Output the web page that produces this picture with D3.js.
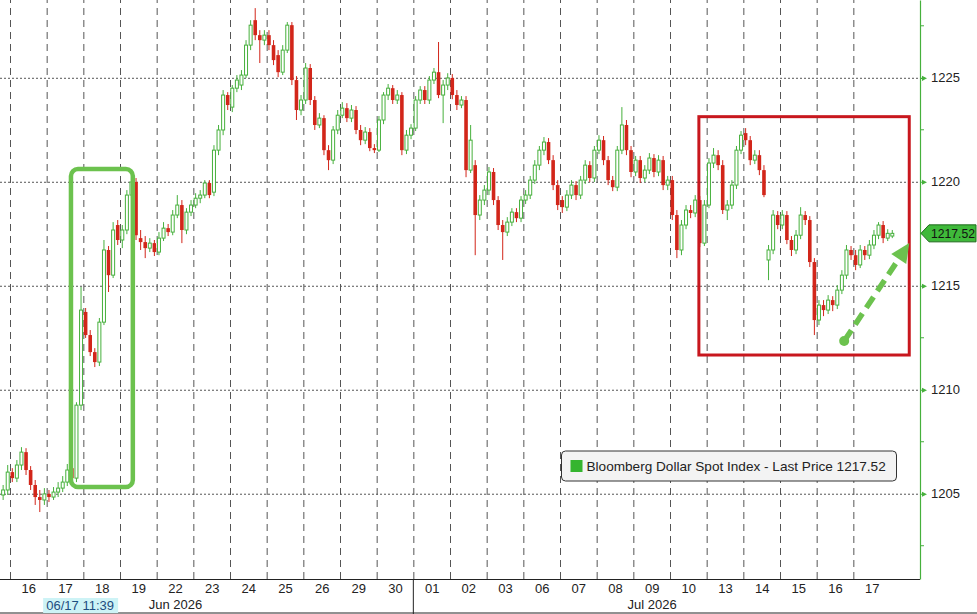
<!DOCTYPE html>
<html>
<head>
<meta charset="utf-8">
<script src="https://cdn.jsdelivr.net/npm/d3@7"></script>
<style>
  body { margin: 0; background: #fff; }
  svg { display: block; font-family: "Liberation Sans", Arial, sans-serif; }
</style>
</head>
<body>
<script>
"use strict";

// trading days shown on the axis (8 bars per day, 2 bars before the first day)
const days = ["16","17","18","19","22","23","24","25","26","29","30","01","02","03","06","07","08","09","10","13","14","15","16","17"];
const months = [{label: "Jun 2026", day: 4}, {label: "Jul 2026", day: 17}];
const monthBreak = 11;
const yTicks = [1205, 1210, 1215, 1220, 1225];
const yMinor = [1202.5, 1207.5, 1212.5, 1217.5, 1222.5, 1227.5];
const lastPrice = 1217.52;
const seriesName = "Bloomberg Dollar Spot Index - Last Price";
const crossLabel = "06/17 11:39";

const opens = [
  1204.94, 1205.18,
  1206.04, 1205.75, 1206.38, 1207.00, 1206.14, 1205.42, 1204.84, 1204.70,
  1204.99, 1204.84, 1205.08, 1205.27, 1205.56, 1206.23, 1205.75, 1209.26,
  1213.74, 1212.63, 1211.81, 1211.33, 1213.25, 1216.72, 1215.51, 1217.92,
  1217.20, 1217.68, 1219.36, 1219.99, 1217.29, 1217.10, 1216.81, 1217.05,
  1216.62, 1217.29, 1217.77, 1217.58, 1218.40, 1218.88, 1217.68, 1218.54,
  1218.88, 1219.21, 1219.36, 1219.94, 1219.50, 1221.52, 1222.49, 1224.17,
  1223.59, 1224.50, 1224.65, 1225.13, 1226.57, 1227.77, 1227.05, 1226.81,
  1227.05, 1226.57, 1226.09, 1225.27, 1226.33, 1227.53, 1224.89, 1223.45,
  1223.93, 1225.47, 1223.93, 1222.73, 1223.06, 1221.52, 1221.04, 1222.49,
  1223.20, 1223.54, 1223.06, 1223.45, 1222.49, 1222.00, 1222.39, 1221.62,
  1221.52, 1222.97, 1224.17, 1224.50, 1223.93, 1224.17, 1221.52, 1222.24,
  1222.58, 1223.93, 1224.41, 1223.93, 1224.89, 1225.27, 1224.17, 1224.65,
  1224.99, 1224.17, 1223.69, 1223.93, 1220.56, 1220.80, 1218.40, 1219.12,
  1219.60, 1220.47, 1219.12, 1217.92, 1217.58, 1218.06, 1218.54, 1218.25,
  1219.12, 1219.36, 1220.08, 1220.80, 1221.52, 1221.91, 1221.04, 1219.84,
  1219.12, 1218.78, 1219.36, 1219.84, 1219.36, 1220.08, 1220.80, 1220.18,
  1221.52, 1222.00, 1221.04, 1220.08, 1219.74, 1221.52, 1222.73, 1221.52,
  1220.47, 1221.04, 1220.18, 1220.56, 1221.14, 1220.47, 1221.04, 1219.84,
  1220.08, 1218.40, 1216.72, 1217.92, 1218.64, 1218.50, 1219.12, 1217.05,
  1218.88, 1220.90, 1221.28, 1220.80, 1218.64, 1218.88, 1219.84, 1221.52,
  1222.34, 1222.00, 1221.04, 1221.28, 1220.56, 1216.24, 1216.72, 1218.40,
  1217.92, 1218.40, 1217.20, 1216.72, 1217.43, 1218.40, 1218.16, 1216.14,
  1213.35, 1214.07, 1213.83, 1214.31, 1214.07, 1214.79, 1215.51, 1216.72,
  1216.47, 1216.00, 1216.72, 1216.47, 1216.96, 1217.43, 1217.92, 1217.29, 1217.39
];
const highs = [
  1205.42, 1206.38,
  1206.23, 1206.62, 1207.24, 1207.19, 1206.33, 1205.66, 1205.18, 1205.27,
  1205.18, 1205.32, 1205.56, 1205.85, 1206.43, 1206.52, 1209.40, 1214.94,
  1213.93, 1212.87, 1212.00, 1213.45, 1217.20, 1216.91, 1218.06, 1218.16,
  1217.92, 1219.60, 1220.32, 1220.18, 1217.68, 1217.39, 1217.29, 1217.20,
  1217.58, 1218.06, 1217.97, 1218.64, 1219.36, 1219.12, 1218.73, 1219.12,
  1219.45, 1219.60, 1220.08, 1220.08, 1221.76, 1222.73, 1224.41, 1224.31,
  1224.65, 1225.13, 1225.37, 1226.81, 1227.77, 1228.35, 1227.29, 1227.29,
  1227.29, 1226.81, 1226.33, 1226.57, 1227.68, 1227.68, 1225.08, 1224.17,
  1225.71, 1225.66, 1224.12, 1223.30, 1223.20, 1221.76, 1222.68, 1223.45,
  1223.83, 1223.78, 1223.69, 1223.64, 1222.73, 1222.63, 1222.58, 1221.81,
  1223.16, 1224.31, 1224.70, 1224.65, 1224.41, 1224.31, 1222.49, 1222.77,
  1224.12, 1224.60, 1224.60, 1225.08, 1225.47, 1226.72, 1224.89, 1225.22,
  1225.18, 1224.41, 1224.12, 1224.12, 1222.73, 1221.04, 1219.36, 1219.84,
  1220.71, 1220.66, 1219.31, 1218.16, 1218.30, 1218.73, 1218.73, 1219.31,
  1219.60, 1220.28, 1221.04, 1221.72, 1222.15, 1222.10, 1221.28, 1220.08,
  1219.31, 1219.60, 1220.08, 1220.03, 1220.28, 1221.04, 1220.99, 1221.72,
  1222.24, 1222.20, 1221.24, 1220.28, 1221.72, 1223.59, 1222.97, 1221.72,
  1221.24, 1221.24, 1220.80, 1221.38, 1221.33, 1221.28, 1221.24, 1220.28,
  1220.28, 1218.64, 1218.16, 1218.88, 1218.88, 1219.36, 1219.31, 1219.12,
  1221.14, 1221.62, 1221.52, 1221.04, 1219.12, 1220.08, 1221.72, 1222.44,
  1222.58, 1222.20, 1221.52, 1221.52, 1220.80, 1216.96, 1218.64, 1218.59,
  1218.64, 1218.59, 1217.39, 1217.68, 1218.78, 1218.59, 1218.35, 1216.33,
  1214.31, 1214.31, 1214.55, 1214.50, 1215.03, 1215.75, 1216.96, 1216.91,
  1216.72, 1216.96, 1216.91, 1217.20, 1217.68, 1218.06, 1218.11, 1217.72, 1217.68
];
const lows = [
  1204.70, 1204.94,
  1205.56, 1205.56, 1206.14, 1205.90, 1205.18, 1204.46, 1204.12, 1204.46,
  1204.60, 1204.70, 1204.84, 1205.08, 1205.37, 1205.56, 1205.56, 1209.02,
  1212.49, 1211.62, 1211.09, 1211.14, 1213.11, 1214.70, 1215.37, 1216.96,
  1216.81, 1217.48, 1219.21, 1217.20, 1216.72, 1216.33, 1216.62, 1216.43,
  1216.47, 1217.15, 1217.39, 1217.43, 1218.25, 1217.05, 1217.48, 1218.35,
  1218.73, 1218.97, 1219.21, 1219.21, 1219.31, 1221.28, 1222.24, 1223.45,
  1223.35, 1224.31, 1224.41, 1224.99, 1226.33, 1226.81, 1225.71, 1226.57,
  1226.33, 1225.61, 1225.03, 1225.13, 1226.19, 1224.65, 1222.97, 1223.20,
  1223.74, 1223.69, 1222.49, 1222.58, 1221.28, 1220.56, 1220.85, 1222.29,
  1223.06, 1222.87, 1222.87, 1222.29, 1221.76, 1221.81, 1221.47, 1221.38,
  1221.43, 1222.77, 1223.93, 1223.74, 1223.74, 1221.28, 1221.33, 1222.05,
  1222.44, 1223.74, 1223.74, 1223.74, 1224.70, 1224.02, 1222.82, 1224.41,
  1223.97, 1223.45, 1223.54, 1220.22, 1220.42, 1216.47, 1218.16, 1218.88,
  1219.36, 1218.88, 1217.68, 1216.24, 1217.39, 1217.87, 1218.06, 1218.06,
  1218.93, 1219.17, 1219.89, 1220.56, 1221.28, 1220.85, 1219.60, 1218.64,
  1218.50, 1218.59, 1219.17, 1219.12, 1219.17, 1219.89, 1219.99, 1219.99,
  1221.33, 1220.80, 1219.84, 1219.55, 1219.55, 1221.33, 1221.28, 1220.22,
  1220.27, 1219.94, 1219.99, 1220.37, 1220.22, 1220.27, 1219.60, 1219.60,
  1218.16, 1216.33, 1216.47, 1217.72, 1218.25, 1218.30, 1216.86, 1216.91,
  1218.73, 1220.66, 1220.56, 1218.45, 1218.16, 1218.69, 1219.65, 1221.33,
  1221.76, 1220.80, 1220.85, 1220.32, 1219.26, 1215.27, 1216.52, 1217.72,
  1217.72, 1217.00, 1216.43, 1216.52, 1217.24, 1217.92, 1215.90, 1212.63,
  1213.11, 1213.54, 1213.64, 1213.78, 1213.88, 1214.60, 1215.32, 1216.24,
  1215.75, 1215.85, 1216.24, 1216.28, 1216.76, 1217.24, 1217.05, 1217.15, 1217.29
];
const closes = [
  1205.18, 1206.04,
  1205.75, 1206.38, 1207.00, 1206.14, 1205.42, 1204.84, 1204.70, 1204.99,
  1204.84, 1205.08, 1205.27, 1205.56, 1206.14, 1205.75, 1209.26, 1213.83,
  1212.63, 1211.81, 1211.33, 1213.25, 1216.72, 1215.51, 1217.68, 1217.20,
  1217.68, 1219.36, 1219.99, 1217.43, 1217.10, 1216.81, 1217.05, 1216.62,
  1217.29, 1217.77, 1217.58, 1218.40, 1218.88, 1217.68, 1218.54, 1218.88,
  1219.21, 1219.36, 1219.94, 1219.36, 1221.52, 1222.49, 1224.17, 1223.69,
  1224.50, 1224.89, 1225.13, 1226.57, 1227.53, 1227.05, 1226.81, 1227.05,
  1226.57, 1225.85, 1225.27, 1226.33, 1227.53, 1224.89, 1223.45, 1223.93,
  1225.47, 1223.93, 1222.73, 1223.06, 1221.52, 1221.04, 1222.49, 1223.20,
  1223.54, 1223.06, 1223.45, 1222.49, 1222.00, 1222.39, 1221.62, 1221.52,
  1222.97, 1224.17, 1224.50, 1223.93, 1224.17, 1221.52, 1222.24, 1222.58,
  1223.93, 1224.41, 1223.93, 1224.89, 1225.27, 1224.17, 1224.65, 1224.99,
  1224.17, 1223.69, 1223.93, 1220.56, 1222.00, 1218.40, 1219.12, 1219.60,
  1220.47, 1219.12, 1217.92, 1217.58, 1218.06, 1218.54, 1218.25, 1219.12,
  1219.36, 1220.08, 1220.80, 1221.52, 1221.91, 1221.04, 1219.84, 1218.88,
  1218.78, 1219.36, 1219.84, 1219.36, 1220.08, 1220.80, 1220.18, 1221.52,
  1222.00, 1221.04, 1220.08, 1219.74, 1221.52, 1222.73, 1221.52, 1220.47,
  1221.04, 1220.18, 1220.56, 1221.14, 1220.47, 1221.04, 1219.84, 1220.08,
  1218.40, 1216.72, 1217.92, 1218.64, 1218.50, 1219.12, 1217.05, 1218.88,
  1220.90, 1221.28, 1220.80, 1218.64, 1218.88, 1219.84, 1221.52, 1222.24,
  1222.00, 1221.04, 1221.28, 1220.56, 1219.36, 1216.72, 1218.40, 1217.92,
  1218.40, 1217.20, 1216.72, 1217.43, 1218.40, 1218.16, 1216.14, 1213.35,
  1214.07, 1213.83, 1214.31, 1214.07, 1214.79, 1215.51, 1216.72, 1216.47,
  1216.00, 1216.72, 1216.47, 1216.96, 1217.43, 1217.92, 1217.29, 1217.52, 1217.52
];

const barsPerDay = 8;
const firstSlot = -2;

let width = 977;
let height = 614;
let plotRight = 920;
let plotBottom = 579;

const upColor = "#46b03c";
const downColor = "#d2261a";
const annoGreen = "#6cc24e";
const annoRed = "#c8171e";

let xScale;
let yScale;

let bars = opens.map((o, i) => ({
  slot: firstSlot + i + 0.5,
  open: o, high: highs[i], low: lows[i], close: closes[i]
}));

let svg = d3.select('body').append('svg')
  .attr('width', width)
  .attr('height', height);

let generateScales = () => {
  xScale = d3.scaleLinear()
    .domain([0, days.length * barsPerDay])
    .range([10, 890]);
  yScale = d3.scaleLinear()
    .domain([1200.9, 1228.74])
    .range([plotBottom, 0]);
};

let drawGrid = () => {
  let vGrid = d3.axisBottom(xScale)
    .tickValues(d3.range(days.length).map(d => d * barsPerDay))
    .tickSize(-plotBottom)
    .tickFormat("");
  let gv = svg.append('g')
    .attr('transform', 'translate(0,' + plotBottom + ')')
    .call(vGrid);
  gv.select('.domain').remove();
  gv.selectAll('line')
    .attr('stroke', '#555')
    .attr('stroke-dasharray', '7,5');

  let hGrid = d3.axisLeft(yScale)
    .tickValues(yTicks)
    .tickSize(plotRight - 2)
    .tickFormat("");
  let gh = svg.append('g')
    .attr('transform', 'translate(' + (plotRight - 2) + ',0)')
    .call(hGrid);
  gh.select('.domain').remove();
  gh.selectAll('line')
    .attr('stroke', '#555')
    .attr('stroke-dasharray', '2,2');
};

let drawCandles = () => {
  let g = svg.append('g').attr('clip-path', 'url(#plotclip)');
  let up = d => d.close >= d.open;

  g.selectAll('line.wick')
    .data(bars)
    .enter()
    .append('line')
    .attr('class', 'wick')
    .attr('x1', d => xScale(d.slot))
    .attr('x2', d => xScale(d.slot))
    .attr('y1', d => yScale(d.high))
    .attr('y2', d => yScale(d.low))
    .attr('stroke', d => up(d) ? upColor : downColor)
    .attr('stroke-width', 1);

  g.selectAll('rect.body')
    .data(bars)
    .enter()
    .append('rect')
    .attr('class', 'body')
    .attr('x', d => xScale(d.slot) - (up(d) ? 1.5 : 1.8))
    .attr('width', d => up(d) ? 3 : 3.6)
    .attr('y', d => yScale(Math.max(d.open, d.close)))
    .attr('height', d => Math.max(1, Math.abs(yScale(d.open) - yScale(d.close))))
    .attr('fill', d => up(d) ? '#fff' : downColor)
    .attr('stroke', d => up(d) ? upColor : 'none')
    .attr('stroke-width', 1);
};

let drawAxes = () => {
  // bottom frame
  svg.append('line')
    .attr('x1', 0).attr('x2', plotRight)
    .attr('y1', plotBottom + 0.5).attr('y2', plotBottom + 0.5)
    .attr('stroke', '#222');
  svg.append('line')
    .attr('x1', 0).attr('x2', width)
    .attr('y1', height - 1).attr('y2', height - 1)
    .attr('stroke', '#222');
  svg.append('line')
    .attr('x1', xScale(monthBreak * barsPerDay)).attr('x2', xScale(monthBreak * barsPerDay))
    .attr('y1', plotBottom).attr('y2', height)
    .attr('stroke', '#222');

  // cross-hair time label
  let cx = xScale(15.3);
  svg.append('rect')
    .attr('x', cx - 37).attr('y', 598)
    .attr('width', 75).attr('height', 15)
    .attr('fill', '#cdf3f6');

  let dayAxis = d3.axisBottom(xScale)
    .tickValues(days.map((d, i) => i * barsPerDay + barsPerDay / 2))
    .tickFormat((d, i) => days[i])
    .tickSize(0)
    .tickPadding(5);
  let gd = svg.append('g')
    .attr('transform', 'translate(0,' + plotBottom + ')')
    .call(dayAxis);
  gd.select('.domain').remove();
  gd.selectAll('text')
    .attr('fill', '#222')
    .style('font-size', '13px')
    .style('font-family', '"Liberation Sans", Arial, sans-serif');

  let monthAxis = d3.axisBottom(xScale)
    .tickValues(months.map(m => m.day * barsPerDay + barsPerDay / 2))
    .tickFormat((d, i) => months[i].label)
    .tickSize(0)
    .tickPadding(5);
  let gm = svg.append('g')
    .attr('transform', 'translate(0,' + (plotBottom + 16) + ')')
    .call(monthAxis);
  gm.select('.domain').remove();
  gm.selectAll('text')
    .attr('fill', '#222')
    .style('font-size', '13px')
    .style('font-family', '"Liberation Sans", Arial, sans-serif');

  svg.append('text')
    .attr('x', cx).attr('y', 610)
    .attr('text-anchor', 'middle')
    .attr('fill', '#1d4d80')
    .style('font-size', '13px')
    .text(crossLabel);

  // right price axis
  let yAxis = d3.axisRight(yScale)
    .tickValues(yTicks)
    .tickFormat(d3.format('d'))
    .tickSize(0)
    .tickSizeOuter(0)
    .tickPadding(11);
  let gy = svg.append('g')
    .attr('transform', 'translate(' + plotRight + ',0)')
    .call(yAxis);
  gy.select('.domain').attr('stroke', upColor).attr('stroke-width', 1.2);
  gy.selectAll('text')
    .attr('fill', '#222')
    .style('font-size', '13px')
    .style('font-family', '"Liberation Sans", Arial, sans-serif');
  gy.selectAll('.tick').append('path')
    .attr('d', 'M0,-0.6H2V-2.6L7,0L2,2.6V0.6H0Z')
    .attr('fill', upColor);

  svg.append('g')
    .selectAll('line')
    .data(yMinor)
    .enter()
    .append('line')
    .attr('x1', plotRight).attr('x2', plotRight + 4)
    .attr('y1', d => yScale(d)).attr('y2', d => yScale(d))
    .attr('stroke', upColor);

  // last price tag
  let ly = yScale(lastPrice);
  svg.append('path')
    .attr('d', 'M' + (plotRight + 1) + ',' + ly + 'L' + (plotRight + 9) + ',' + (ly - 8.5) +
      'H' + (width - 1) + 'V' + (ly + 8.5) + 'H' + (plotRight + 9) + 'Z')
    .attr('fill', '#3fb93a')
    .attr('stroke', '#1f6a1c')
    .attr('stroke-width', 1);
  svg.append('text')
    .attr('x', plotRight + 11).attr('y', ly + 4.5)
    .attr('fill', '#111')
    .attr('textLength', 44)
    .attr('lengthAdjust', 'spacingAndGlyphs')
    .style('font-size', '13px')
    .text(d3.format('.2f')(lastPrice));
};

let drawAnnotations = () => {
  let anno = svg.append('g');

  anno.append('rect')
    .attr('x', xScale(13.3)).attr('y', yScale(1220.61))
    .attr('width', xScale(26.8) - xScale(13.3))
    .attr('height', yScale(1205.32) - yScale(1220.61))
    .attr('rx', 7)
    .attr('fill', 'none')
    .attr('stroke', annoGreen)
    .attr('stroke-width', 4.5);

  anno.append('rect')
    .attr('x', xScale(150.3)).attr('y', yScale(1223.13))
    .attr('width', xScale(196.2) - xScale(150.3))
    .attr('height', yScale(1211.67) - yScale(1223.13))
    .attr('fill', 'none')
    .attr('stroke', annoRed)
    .attr('stroke-width', 3);

  // dashed trend arrow
  let x0 = xScale(182.0), y0 = yScale(1212.34);
  let x1 = xScale(196.2), y1 = yScale(1217.05);
  let len = Math.hypot(x1 - x0, y1 - y0);
  let ux = (x1 - x0) / len, uy = (y1 - y0) / len;
  let headLen = 19, headHalf = 9;
  let bx = x1 - ux * headLen, by = y1 - uy * headLen;
  anno.append('line')
    .attr('x1', x0).attr('y1', y0)
    .attr('x2', bx).attr('y2', by)
    .attr('stroke', annoGreen)
    .attr('stroke-width', 5.5)
    .attr('stroke-dasharray', '13,7');
  anno.append('circle')
    .attr('cx', x0).attr('cy', y0).attr('r', 5)
    .attr('fill', annoGreen);
  anno.append('path')
    .attr('d', 'M' + x1 + ',' + y1 +
      'L' + (bx - uy * headHalf) + ',' + (by + ux * headHalf) +
      'L' + (bx + uy * headHalf) + ',' + (by - ux * headHalf) + 'Z')
    .attr('fill', annoGreen);
};

let drawLegend = () => {
  let lg = svg.append('g').attr('transform', 'translate(561.5,451)');
  lg.append('rect')
    .attr('width', 335).attr('height', 30).attr('rx', 4)
    .attr('fill', '#f3f3f3')
    .attr('stroke', '#333');
  lg.append('rect')
    .attr('x', 9).attr('y', 9).attr('width', 12).attr('height', 12)
    .attr('fill', '#35b52f');
  lg.append('text')
    .attr('x', 25).attr('y', 20)
    .attr('fill', '#222')
    .style('font-size', '13.6px')
    .text(seriesName + ' ' + d3.format('.2f')(lastPrice));
};

svg.append('defs').append('clipPath').attr('id', 'plotclip')
  .append('rect').attr('x', 0).attr('y', 0).attr('width', 919).attr('height', 579);

generateScales();
drawGrid();
drawCandles();
drawAxes();
drawAnnotations();
drawLegend();
</script>
</body>
</html>
